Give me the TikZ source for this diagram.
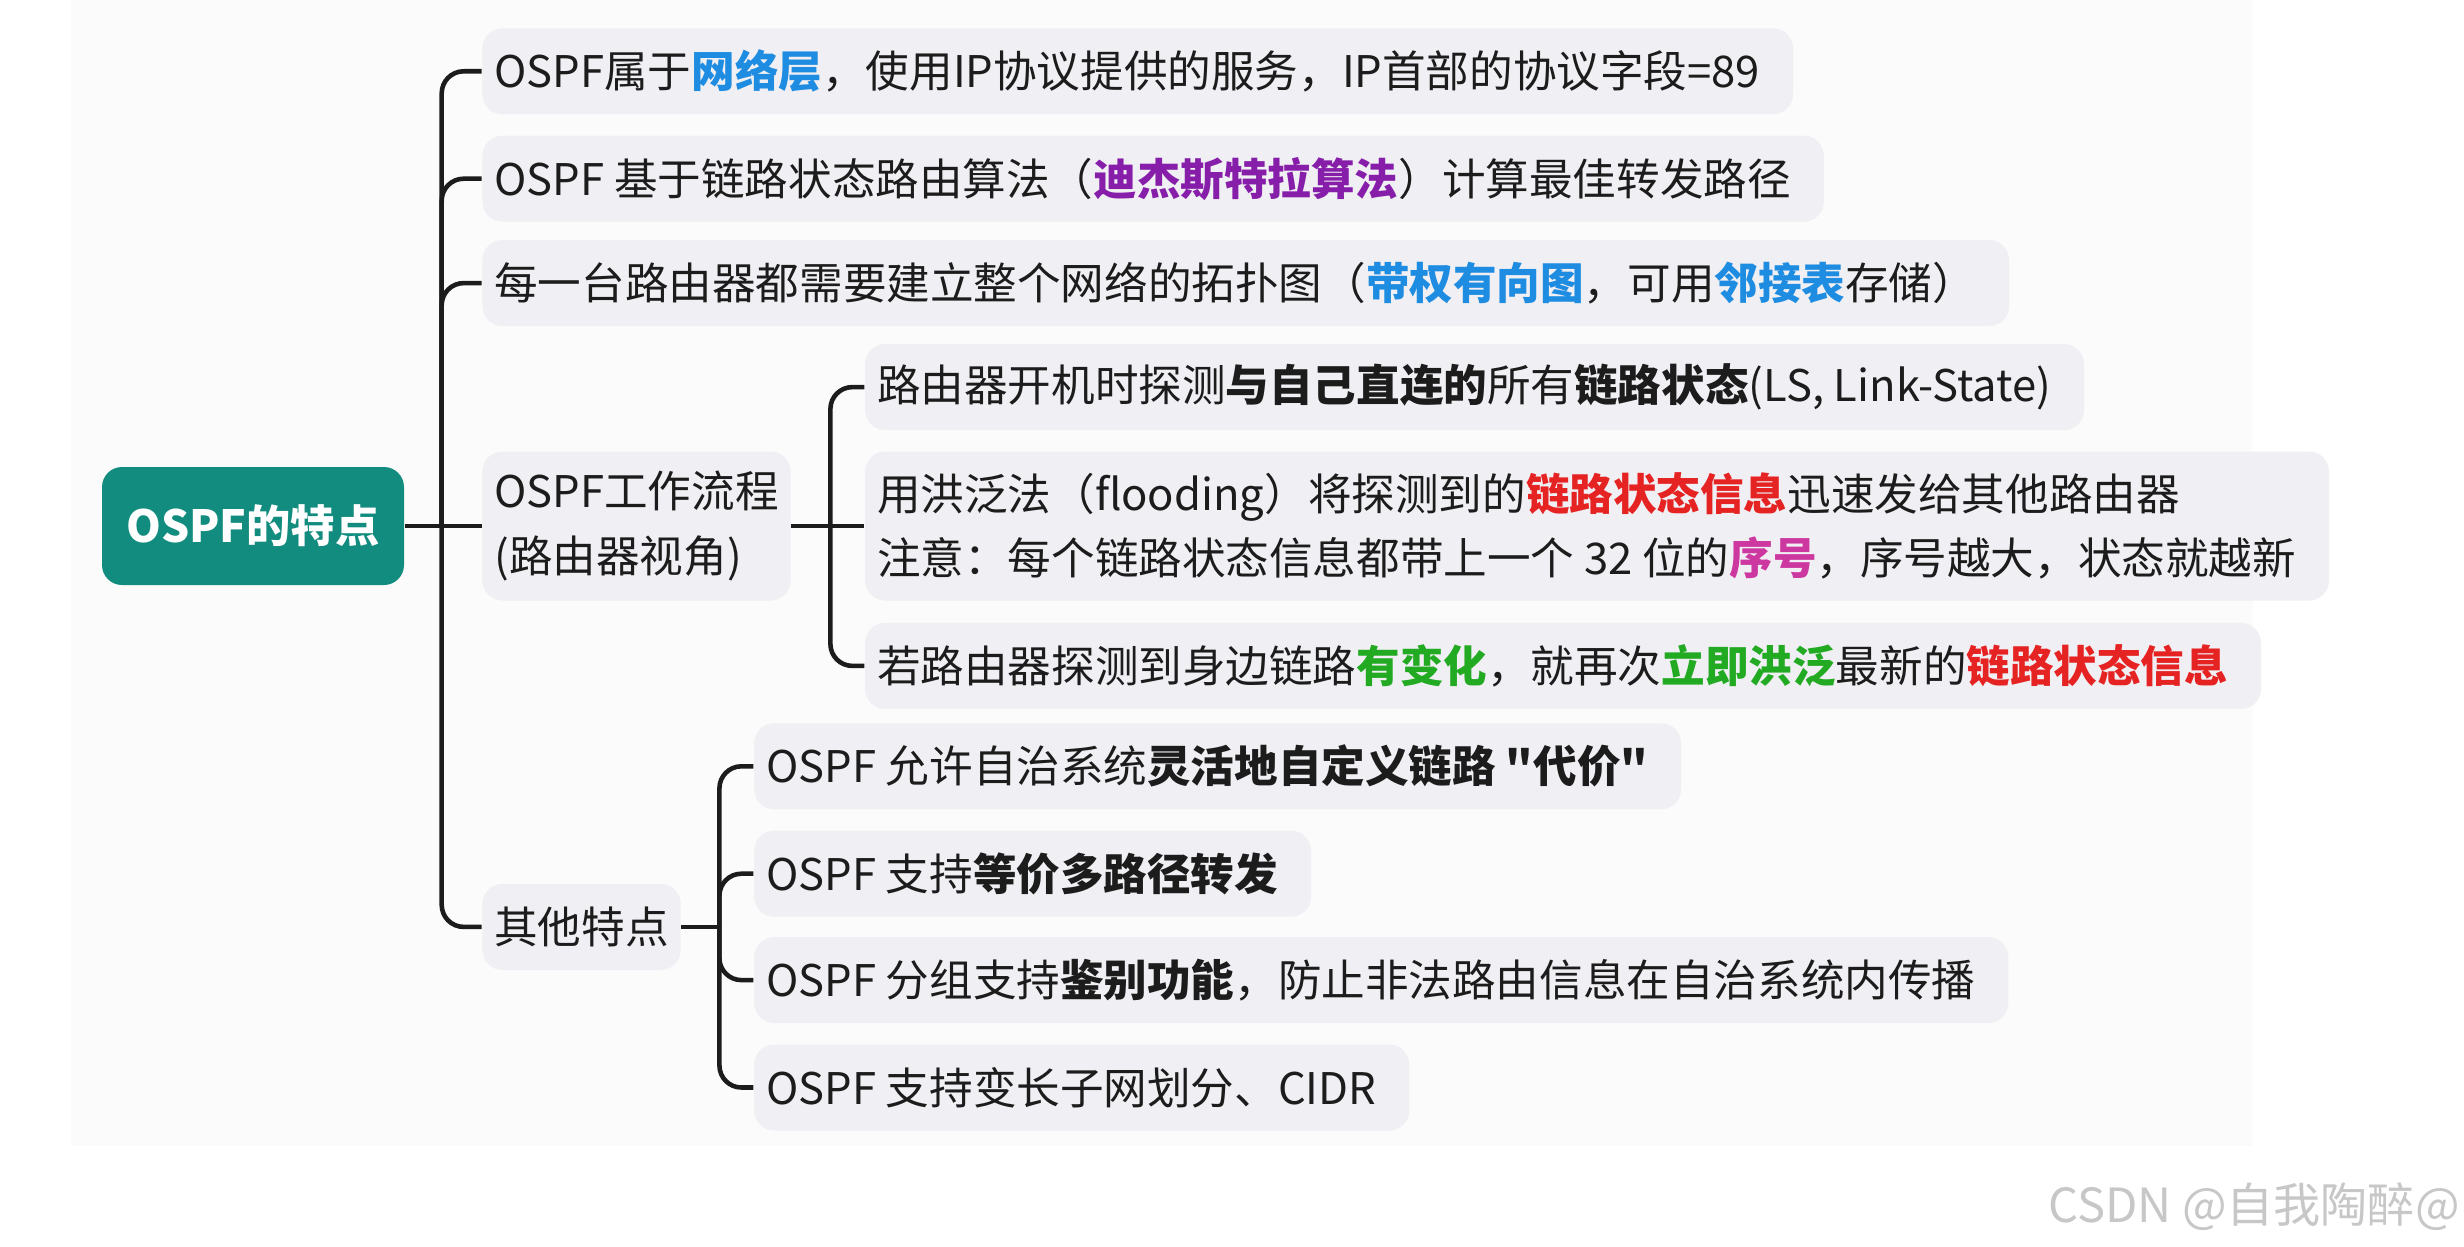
\documentclass[tikz,border=0pt]{standalone}
\usepackage{fontspec}
\setmainfont{Noto Sans CJK SC}[Ligatures=TeXOff]
\usetikzlibrary{positioning}
\definecolor{rootteal}{RGB}{18,140,126}
\definecolor{boxgray}{RGB}{240,239,243}
\definecolor{panel}{RGB}{251,251,251}
\definecolor{ink}{RGB}{28,28,28}
\definecolor{cblue}{RGB}{30,140,225}
\definecolor{cpurple}{RGB}{135,30,170}
\definecolor{cred}{RGB}{230,35,35}
\definecolor{cpink}{RGB}{205,55,160}
\definecolor{cgreen}{RGB}{35,170,35}
\newcommand{\hl}[2]{{\color{#1}\bfseries #2}}

\begin{document}
\begin{tikzpicture}[
		every node/.style={font=\fontsize{12.4pt}{18.4pt}\selectfont, text=ink},
		rootbox/.style={fill=rootteal, text=white, rounded corners=0.2cm,
			minimum height=1.18cm, minimum width=3.02cm, inner xsep=0.1cm,
			font=\fontsize{12.6pt}{15pt}\selectfont\bfseries},
		topic/.style={fill=boxgray, rounded corners=0.2cm, minimum height=0.86cm,
			inner xsep=0.12cm, align=left},
		item/.style={topic, execute at end node={\rule{0.21cm}{0pt}}},
		tallitem/.style={item, minimum height=1.49cm},
		branch/.style={draw=ink, line width=1.3pt, rounded corners=0.22cm},
	]

	\useasboundingbox[fill=white] (0,0) rectangle (24.64,-12.47);
	\fill[panel] (0.71,0) rectangle (22.53,-11.46);

	\node (root) [rootbox] at (2.53,-5.26) {OSPF的特点};

	% first level
	\node (flow) [topic, minimum height=1.49cm, right = 0.77cm of root] {OSPF工作流程\\(路由器视角)};
	\node (topo) [item, above = 1.24cm of flow.north west, anchor=south west]
		{每一台路由器都需要建立整个网络的拓扑图（\hl{cblue}{带权有向图}，可用\hl{cblue}{邻接表}存储）};
	\node (algo) [item, above = 0.17cm of topo.north west, anchor=south west]
		{OSPF 基于链路状态路由算法（\hl{cpurple}{迪杰斯特拉算法}）计算最佳转发路径};
	\node (layer) [item, above = 0.20cm of algo.north west, anchor=south west]
		{OSPF属于\hl{cblue}{网络层}，使用IP协议提供的服务，IP首部的协议字段=89};
	\node (other) [topic, below = 2.82cm of flow.south west, anchor=north west] {其他特点};

	% work flow
	\node (flood) [tallitem, right = 0.73cm of flow]
		{用洪泛法（flooding）将探测到的\hl{cred}{链路状态信息}迅速发给其他路由器\\注意：每个链路状态信息都带上一个 32 位的\hl{cpink}{序号}，序号越大，状态就越新};
	\node (detect) [item, above = 0.20cm of flood.north west, anchor=south west]
		{路由器开机时探测{\bfseries 与自己直连的}所有{\bfseries 链路状态}(LS, Link-State)};
	\node (change) [item, below = 0.21cm of flood.south west, anchor=north west]
		{若路由器探测到身边链路\hl{cgreen}{有变化}，就再次\hl{cgreen}{立即洪泛}最新的\hl{cred}{链路状态信息}};

	% other features
	\node (ecmp) [item, above right = 0.095cm and 0.72cm of other.east] {OSPF 支持{\bfseries 等价多路径转发}};
	\node (auth) [item, below right = 0.095cm and 0.72cm of other.east]
		{OSPF 分组支持{\bfseries 鉴别功能}，防止非法路由信息在自治系统内传播};
	\node (cost) [item, above = 0.20cm of ecmp.north west, anchor=south west]
		{OSPF 允许自治系统{\bfseries 灵活地自定义链路 "代价"}};
	\node (cidr) [item, below = 0.20cm of auth.south west, anchor=north west] {OSPF 支持变长子网划分、CIDR};

	\coordinate [right = 0.37cm of root] (t1);
	\coordinate [right = 0.39cm of flow] (t2);
	\coordinate [right = 0.38cm of other] (t3);

	\draw[branch] (root) -- (flow);
	\foreach \n in {layer,algo,topo,other}
		\draw[branch] (t1) |- (\n.west);
	\draw[branch] (flow) -- (flood);
	\foreach \n in {detect,change}
		\draw[branch] (t2) |- (\n.west);
	\draw[branch] (other.east) -- (t3);
	\foreach \n in {cost,ecmp,auth,cidr}
		\draw[branch] (t3) |- (\n.west);

	\node (mark) [anchor=east, text=black!22, font=\fontsize{13.4pt}{16pt}\selectfont]
		at (24.72,-12.07) {CSDN @自我陶醉@};
\end{tikzpicture}
\end{document}
